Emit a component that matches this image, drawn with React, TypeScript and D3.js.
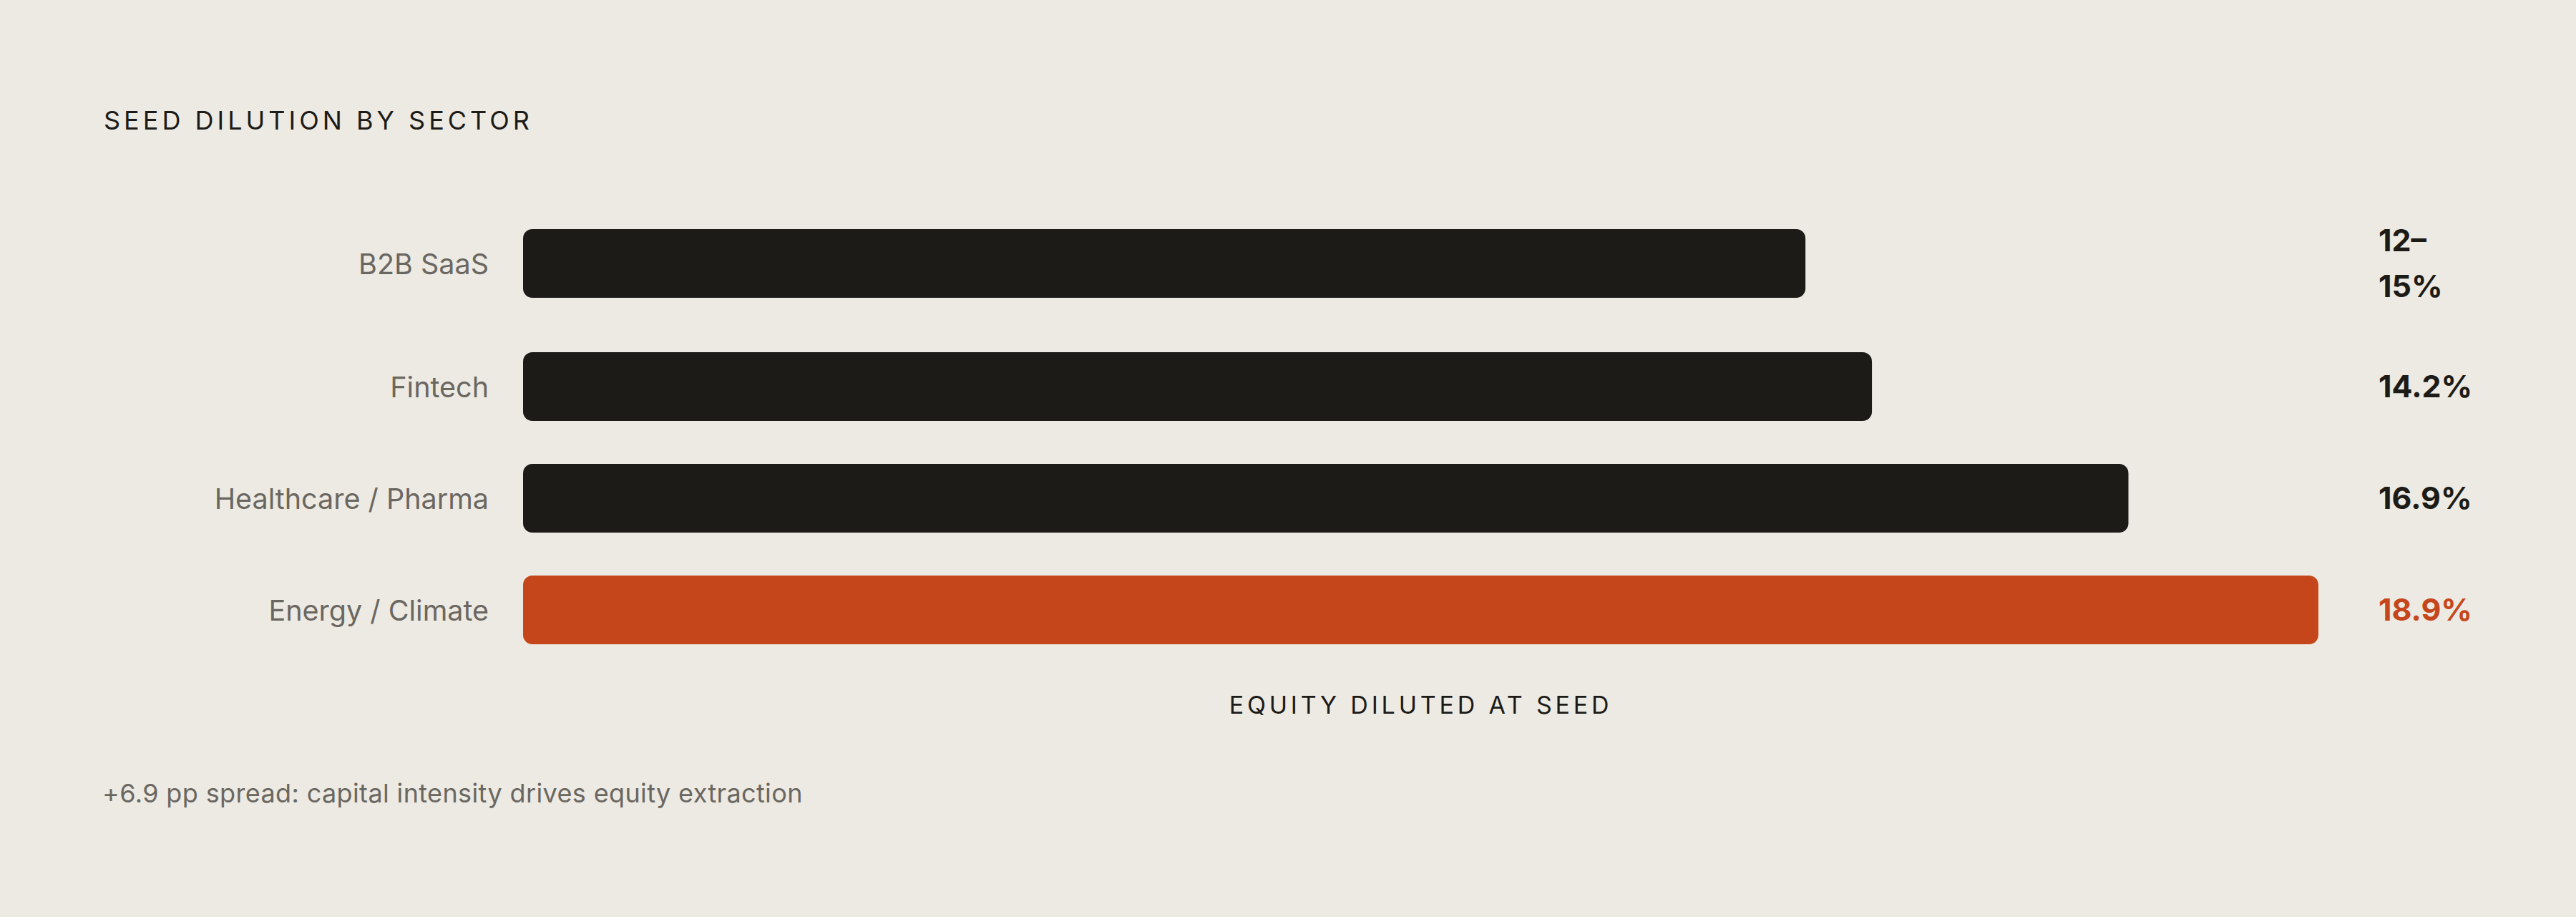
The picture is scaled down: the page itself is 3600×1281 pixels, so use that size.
import React from "react";
import * as d3 from "d3";

const sectors = ["B2B SaaS", "Fintech", "Healthcare / Pharma", "Energy / Climate"];
const dilution = [13.5, 14.2, 16.9, 18.9];
const valueLabels = [["12–", "15%"], ["14.2%"], ["16.9%"], ["18.9%"]];
const highlighted = [false, false, false, true];

const titleText = "SEED DILUTION BY SECTOR";
const axisTitle = "EQUITY DILUTED AT SEED";
const footnote = "+6.9 pp spread: capital intensity drives equity extraction";

const W = 3600;
const H = 1281;
const BG = "#EDEAE3";
const DARK = "#1C1B17";
const ACCENT = "#C6461B";
const GRAY = "#6A6761";
const FONT = "Inter, 'DejaVu Sans', sans-serif";

export default function App() {
  const barLeft = 731;
  const barRight = 3240;
  const barH = 96;
  const lineH = 64;
  const rowGap = 60;
  const top = 304;
  const valueX = 3324;

  const x = d3.scaleLinear().domain([0, d3.max(dilution) as number]).range([barLeft, barRight]);

  const rows: { y0: number; h: number }[] = [];
  let cur = top;
  sectors.forEach((_, i) => {
    const h = Math.max(barH, valueLabels[i].length * lineH);
    rows.push({ y0: cur, h });
    cur += h + rowGap;
  });

  const lastRow = rows[rows.length - 1];
  const axisY = lastRow.y0 + lastRow.h + 97;

  return (
    <svg
      width={W}
      height={H}
      viewBox={`0 0 ${W} ${H}`}
      style={{ position: "absolute", left: 0, top: 0, display: "block" }}
    >
      <rect x={0} y={0} width={W} height={H} fill={BG} />
      <text
        x={145}
        y={181}
        fontFamily={FONT}
        fontSize={36}
        fontWeight={400}
        letterSpacing={5}
        fill={DARK}
      >
        {titleText}
      </text>
      {sectors.map((s, i) => {
        const r = rows[i];
        const cy = r.y0 + r.h / 2;
        const color = highlighted[i] ? ACCENT : DARK;
        const lines = valueLabels[i];
        return (
          <g key={s}>
            <text
              x={683}
              y={cy + 15}
              textAnchor="end"
              fontFamily={FONT}
              fontSize={39.5}
              fill={GRAY}
            >
              {s}
            </text>
            <rect
              x={x(0)}
              y={cy - barH / 2}
              width={x(dilution[i]) - x(0)}
              height={barH}
              rx={13}
              ry={13}
              fill={color}
            />
            {lines.map((ln, j) => (
              <text
                key={j}
                x={valueX}
                y={cy - ((lines.length - 1) * lineH) / 2 + j * lineH + 15}
                fontFamily={FONT}
                fontSize={43}
                fontWeight={700}
                fill={color}
              >
                {ln}
              </text>
            ))}
          </g>
        );
      })}
      <text
        x={(barLeft + barRight) / 2}
        y={axisY}
        textAnchor="middle"
        fontFamily={FONT}
        fontSize={34}
        letterSpacing={4.8}
        fill={DARK}
      >
        {axisTitle}
      </text>
      <text x={143} y={1121} fontFamily={FONT} fontSize={36} letterSpacing={0.37} fill={GRAY}>
        {footnote}
      </text>
    </svg>
  );
}
